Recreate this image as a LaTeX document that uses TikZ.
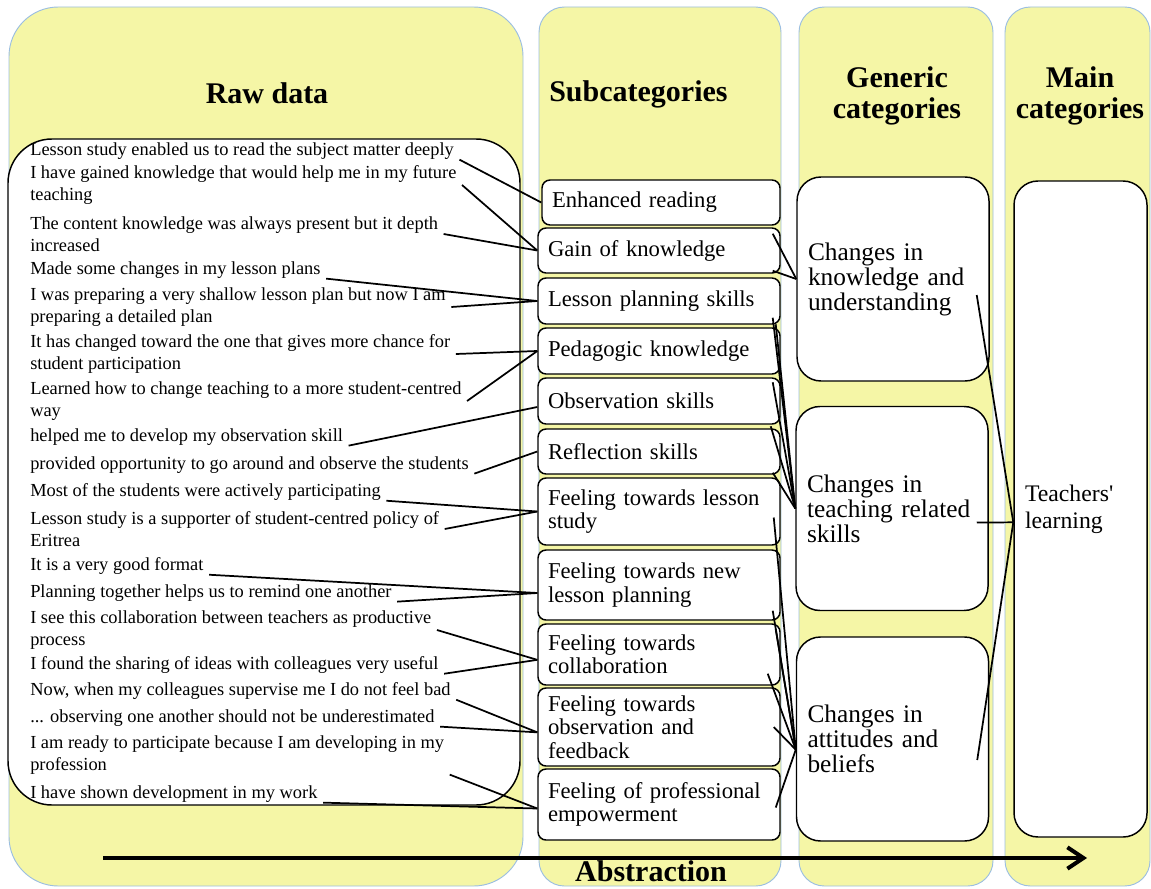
\documentclass[tikz,border=0pt]{standalone}
\usepackage{fontspec}
\setmainfont{Liberation Serif}
\usepackage{tikz}
\usetikzlibrary{positioning,
	arrows.meta}
\definecolor{colyellow}{RGB}{245,246,166}
\definecolor{colblue}{RGB}{155,190,225}

\begin{document}
\begin{tikzpicture}[x=0.75pt,y=-0.75pt,
	column/.style={draw=colblue,fill=colyellow,line width=0.7pt},
	header/.style={font=\fontsize{22.5}{23.25}\selectfont\bfseries,align=center,inner sep=0pt},
	rawtext/.style={font=\fontsize{13.8}{16.5}\selectfont,align=left,inner sep=0pt,anchor=west},
	subbox/.style={draw,fill=white,line width=1.1pt,rounded corners=6pt,minimum width=181.5pt,
		text width=166.5pt,inner xsep=7.5pt,inner ysep=0pt,align=left,font=\fontsize{17}{17.5}\selectfont},
	genbox/.style={draw,fill=white,line width=1.1pt,rounded corners=18pt,minimum width=144pt,
		minimum height=153pt,text width=127.5pt,inner xsep=8.25pt,align=left,font=\fontsize{19}{18.75}\selectfont},
	link/.style={line width=1.3pt}]
	\useasboundingbox (0,0) rectangle (1151,888);
	% columns
	\draw[column,rounded corners=37pt] (9,7) rectangle (523,886);
	\draw[column,rounded corners=19pt] (539,7) rectangle (781,886);
	\draw[column,rounded corners=19pt] (799,7) rectangle (993,886);
	\draw[column,rounded corners=19pt] (1005,7) rectangle (1150,886);
	\node[header] (hdraw) at (267,93) {Raw data};
	\node[header,anchor=west] (hdsub) at (549,94) {Subcategories};
	\node[header] (hdgen) at (897,96) {Generic\\categories};
	\node[header] (hdmain) at (1080,96) {Main\\categories};
	% raw data
	\draw[fill=white,line width=1.1pt,rounded corners=33pt] (8,139) rectangle (520,805);
	\foreach \i/\y/\txt in {
		1/151/{Lesson study enabled us to read the subject matter deeply},
		2/185/{I have gained knowledge that would help me in my future\\teaching},
		3/234/{The content knowledge was always present but it depth\\increased},
		4/270/{Made some changes in my lesson plans},
		5/307/{I was preparing a very shallow lesson plan but now I am\\preparing a detailed plan},
		6/354/{It has changed toward the one that gives more chance for\\student participation},
		7/401/{Learned how to change teaching to a more student-centred\\way},
		8/437/{helped me to develop my observation skill},
		9/465/{provided opportunity to go around and observe the students},
		10/492/{Most of the students were actively participating},
		11/529/{Lesson study is a supporter of student-centred policy of\\Eritrea},
		12/566/{It is a very good format},
		13/593/{Planning together helps us to remind one another},
		14/630/{I see this collaboration between teachers as productive\\process},
		15/665/{I found the sharing of ideas with colleagues very useful},
		16/691/{Now, when my colleagues supervise me I do not feel bad},
		17/718/{... observing one another should not be underestimated},
		18/755/{I am ready to participate because I am developing in my\\profession},
		19/794/{I have shown development in my work}} {
		\node[rawtext] (raw\i) at (30,\y) {\txt};
	}
	% subcategories
	\node[subbox,minimum width=178.5pt,text width=163.5pt,minimum height=33.75pt] (sub1) at (661,202.5) {Enhanced reading};
	\node[subbox,minimum height=33.75pt] (sub2) at (659,250.5) {Gain of knowledge};
	\node[subbox,minimum height=34.5pt] (sub3) at (659,301) {Lesson planning skills};
	\node[subbox,minimum height=34.5pt] (sub4) at (659,351) {Pedagogic knowledge};
	\node[subbox,minimum height=34.5pt] (sub5) at (659,401) {Observation skills};
	\node[subbox,minimum height=33.75pt] (sub6) at (659,451.5) {Reflection skills};
	\node[subbox,minimum height=50.25pt] (sub7) at (659,511.5) {Feeling towards lesson\\study};
	\node[subbox,minimum height=52.5pt] (sub8) at (659,585) {Feeling towards new\\lesson planning};
	\node[subbox,minimum height=45.75pt] (sub9) at (659,654.5) {Feeling towards\\collaboration};
	\node[subbox,minimum height=58.5pt] (sub10) at (659,727) {Feeling towards\\observation and\\feedback};
	\node[subbox,minimum height=53.25pt] (sub11) at (659,804.5) {Feeling of professional\\empowerment};
	% generic and main categories
	\node[genbox] (gen1) at (893,279) {Changes in\\knowledge and\\understanding};
	\node[genbox] (gen2) at (892,508.5) {Changes in\\teaching related\\skills};
	\node[genbox] (gen3) at (892.5,739) {Changes in\\attitudes and\\beliefs};
	\node[genbox,minimum width=99.75pt,text width=83.25pt,minimum height=492pt,
		font=\fontsize{17.8}{20}\selectfont] (main) at (1080.5,509) {Teachers\textquotesingle\\learning};
	% links raw -> sub
	\foreach \i/\a/\j/\dy in {1/south east/1/0, 2/east/2/0, 3/east/2/0, 4/south east/3/0,
		5/east/3/0, 6/east/4/0, 7/east/4/0, 8/south east/5/-4.5, 9/south east/6/0,
		10/south east/7/0, 11/east/7/0, 12/south east/8/-6, 13/south east/8/-6,
		14/east/9/-4, 15/south east/9/-4, 16/south east/10/-4, 17/south east/10/-4,
		18/south east/11/-3, 19/south east/11/-3} {
		\draw[link] ([xshift=4pt]raw\i.\a) -- ([yshift=\dy pt]sub\j.west);
	}
	% links sub -> generic
	\draw[link] ([shift={(-8,8)}]sub1.south east) -- (gen1.west);
	\draw[link] ([shift={(-8,-3)}]sub2.south east) -- (gen1.west);
	\draw[link] ([shift={(-8,-7)}]sub3.south east) -- (gen2.west);
	\draw[link] ([shift={(-5,-3)}]sub4.north east) -- (gen2.west);
	\draw[link] ([shift={(-8,5)}]sub5.north east) -- (gen2.west);
	\draw[link] ([shift={(-10,-2)}]sub6.north east) -- (gen2.west);
	\draw[link] ([shift={(-8,-2)}]sub6.south east) -- (gen2.west);
	\draw[link] ([shift={(-7,6)}]sub7.east) -- ([yshift=-8pt]gen3.west);
	\draw[link] ([shift={(-8,-10)}]sub8.south east) -- ([yshift=-8pt]gen3.west);
	\draw[link] ([shift={(-5,6)}]sub9.north east) -- ([yshift=-8pt]gen3.west);
	\draw[link] ([shift={(-13,-12)}]sub9.south east) -- ([yshift=-8pt]gen3.west);
	\draw[link] ([shift={(-7,0)}]sub10.east) -- ([yshift=-8pt]gen3.west);
	\draw[link] ([shift={(-5,3)}]sub11.east) -- ([yshift=-8pt]gen3.west);
	% links generic -> main
	\draw[link] ([shift={(-13,16)}]gen1.east) -- ([yshift=-10pt]main.west);
	\draw[link] ([shift={(-12,14)}]gen2.east) -- ([yshift=-10pt]main.west);
	\draw[link] ([shift={(-12,21)}]gen3.east) -- ([yshift=-10pt]main.west);
	% abstraction arrow
	\coordinate (arrstart) at (103,858);
	\coordinate (arrend) at (1087,858);
	\draw[line width=3pt,-{Straight Barb[length=12pt,width=16pt]}] (arrstart) -- (arrend);
	\node[header] (abstr) at (651,871) {Abstraction};
\end{tikzpicture}
\end{document}
